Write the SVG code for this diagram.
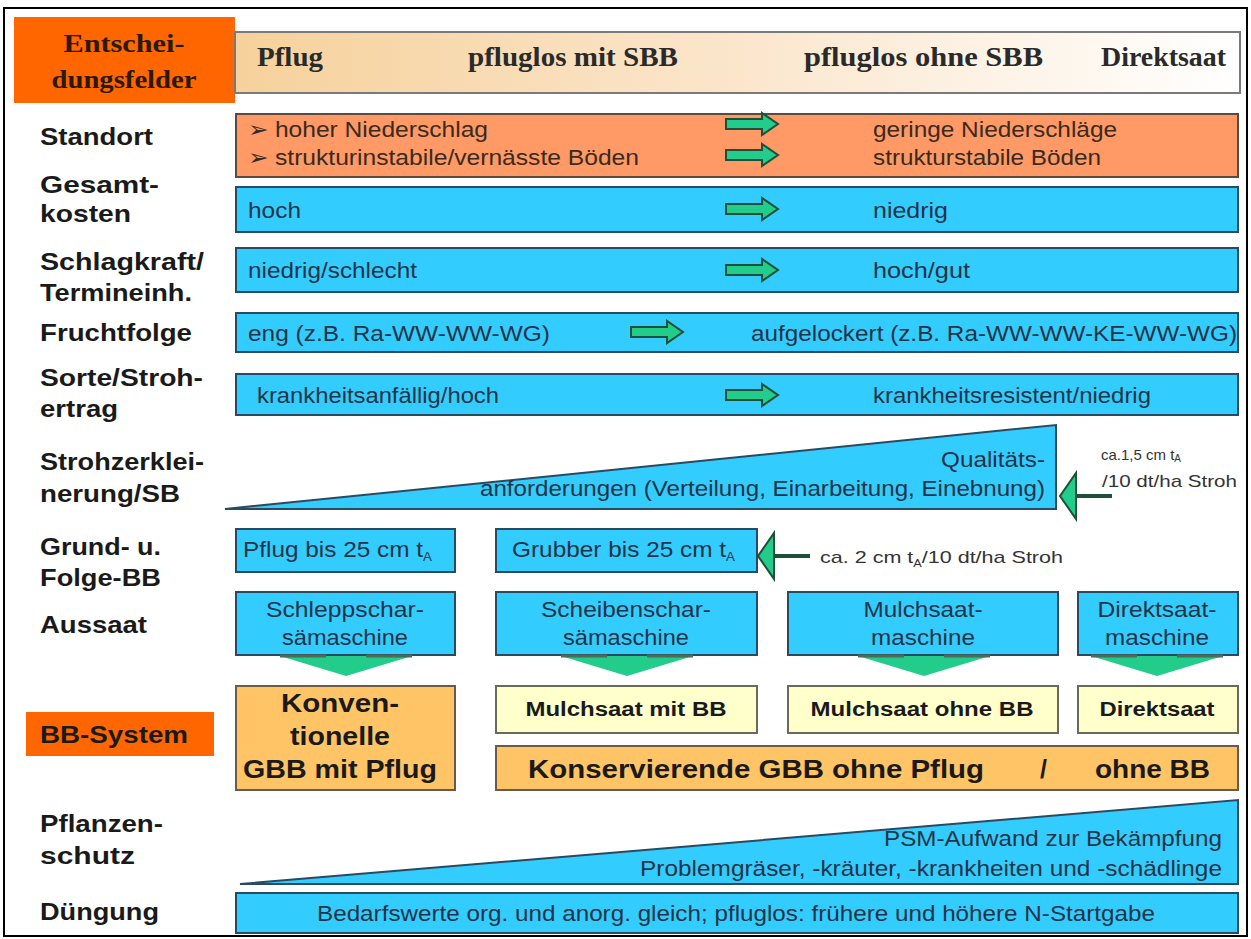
<svg xmlns="http://www.w3.org/2000/svg" width="1251" height="939" viewBox="0 0 1251 939">
<defs>
<linearGradient id="hdr" x1="0" y1="0" x2="1" y2="0">
<stop offset="0" stop-color="#f6d19b"/>
<stop offset="0.5" stop-color="#fbe6cc"/>
<stop offset="1" stop-color="#ffffff"/>
</linearGradient>
<g id="rarrow"><polygon points="0,-5 36,-5 36,-11 52,0 36,11 36,5 0,5" fill="#22cc8a" stroke="#1f4f38" stroke-width="2"/></g>
<g id="chev"><polygon points="-66,1 66,1 0,21" fill="#22cc8a"/><line x1="-66" y1="1" x2="-20" y2="1" stroke="#4a6a5a" stroke-width="3"/><line x1="20" y1="1" x2="66" y2="1" stroke="#4a6a5a" stroke-width="3"/></g>
</defs>
<style>
.lbl{font-family:"Liberation Sans",Arial,sans-serif;font-weight:bold;font-size:24px;fill:#1a1a1a}
.hd{font-family:"Liberation Serif","Times New Roman",serif;font-weight:bold;font-size:27px;fill:#2a2a2a}
.t{font-family:"Liberation Sans",Arial,sans-serif;font-size:22px;fill:#223447}
.tc{font-family:"Liberation Sans",Arial,sans-serif;font-size:22px;fill:#223447;text-anchor:middle}
.te{font-family:"Liberation Sans",Arial,sans-serif;font-size:22px;fill:#223447;text-anchor:end}
.sm{font-family:"Liberation Sans",Arial,sans-serif;font-size:17px;fill:#333}
.sub{font-size:12px}
.subs{font-size:10px}
.bb{font-family:"Liberation Sans",Arial,sans-serif;font-weight:bold;fill:#1a1a1a}
.blue{fill:#33ccff;stroke:#2a4a60;stroke-width:2}
.org{fill:#ff9966;stroke:#5a4a40;stroke-width:2}
.gold{fill:#ffc466;stroke:#6a5a4a;stroke-width:2}
.pale{fill:#ffffcc;stroke:#6a6a5a;stroke-width:2}
.garr{fill:#22cc8a;stroke:#1f4f38;stroke-width:2}
.shaft{stroke:#1f4f38;stroke-width:4}
</style>
<rect x="4" y="8" width="1243" height="928" fill="#ffffff" stroke="#000" stroke-width="2"/>

<g id="header">
<rect x="14" y="17" width="221" height="86" fill="#ff6600"/>
<text class="hd" x="124" y="52" text-anchor="middle" style="font-size:26px;fill:#2b1a0a" textLength="121" lengthAdjust="spacingAndGlyphs">Entschei-</text>
<text class="hd" x="124" y="88" text-anchor="middle" style="font-size:26px;fill:#2b1a0a" textLength="145" lengthAdjust="spacingAndGlyphs">dungsfelder</text>
<rect x="235" y="32" width="1005" height="61" fill="url(#hdr)" stroke="#7a7a7a" stroke-width="2"/>
<text class="hd" x="257" y="66" textLength="66" lengthAdjust="spacingAndGlyphs">Pflug</text>
<text class="hd" x="468" y="66" textLength="210" lengthAdjust="spacingAndGlyphs">pfluglos mit SBB</text>
<text class="hd" x="804" y="66" textLength="239" lengthAdjust="spacingAndGlyphs">pfluglos ohne SBB</text>
<text class="hd" x="1101" y="66" textLength="125" lengthAdjust="spacingAndGlyphs">Direktsaat</text>
</g>

<g id="labels">
<text class="lbl" x="40" y="145" textLength="113" lengthAdjust="spacingAndGlyphs">Standort</text>
<text class="lbl" x="40" y="193" textLength="119" lengthAdjust="spacingAndGlyphs">Gesamt-</text>
<text class="lbl" x="40" y="222" textLength="91" lengthAdjust="spacingAndGlyphs">kosten</text>
<text class="lbl" x="40" y="270" textLength="164" lengthAdjust="spacingAndGlyphs">Schlagkraft/</text>
<text class="lbl" x="40" y="301" textLength="152" lengthAdjust="spacingAndGlyphs">Termineinh.</text>
<text class="lbl" x="40" y="341" textLength="152" lengthAdjust="spacingAndGlyphs">Fruchtfolge</text>
<text class="lbl" x="40" y="386" textLength="163" lengthAdjust="spacingAndGlyphs">Sorte/Stroh-</text>
<text class="lbl" x="40" y="417" textLength="78" lengthAdjust="spacingAndGlyphs">ertrag</text>
<text class="lbl" x="40" y="470" textLength="164" lengthAdjust="spacingAndGlyphs">Strohzerklei-</text>
<text class="lbl" x="40" y="502" textLength="140" lengthAdjust="spacingAndGlyphs">nerung/SB</text>
<text class="lbl" x="40" y="555" textLength="121" lengthAdjust="spacingAndGlyphs">Grund- u.</text>
<text class="lbl" x="40" y="586" textLength="121" lengthAdjust="spacingAndGlyphs">Folge-BB</text>
<text class="lbl" x="40" y="633" textLength="107" lengthAdjust="spacingAndGlyphs">Aussaat</text>
<text class="lbl" x="40" y="832" textLength="123" lengthAdjust="spacingAndGlyphs">Pflanzen-</text>
<text class="lbl" x="40" y="864" textLength="95" lengthAdjust="spacingAndGlyphs">schutz</text>
<text class="lbl" x="40" y="920" textLength="119" lengthAdjust="spacingAndGlyphs">Düngung</text>
</g>

<g id="standort">
<rect class="org" x="236" y="114" width="1002" height="63"/>
<text class="t" x="248" y="137" style="fill:#3a2a20" textLength="240" lengthAdjust="spacingAndGlyphs">➢ hoher Niederschlag</text>
<text class="t" x="248" y="165" style="fill:#3a2a20" textLength="391" lengthAdjust="spacingAndGlyphs">➢ strukturinstabile/vernässte Böden</text>
<text class="t" x="873" y="137" style="fill:#3a2a20" textLength="244" lengthAdjust="spacingAndGlyphs">geringe Niederschläge</text>
<text class="t" x="873" y="165" style="fill:#3a2a20" textLength="228" lengthAdjust="spacingAndGlyphs">strukturstabile Böden</text>
</g>

<g id="gesamtkosten">
<rect class="blue" x="236" y="187" width="1002" height="45"/>
<text class="t" x="248" y="218" textLength="53" lengthAdjust="spacingAndGlyphs">hoch</text>
<text class="t" x="873" y="218" textLength="75" lengthAdjust="spacingAndGlyphs">niedrig</text>
</g>

<g id="schlagkraft">
<rect class="blue" x="236" y="248" width="1002" height="44"/>
<text class="t" x="248" y="278" textLength="169" lengthAdjust="spacingAndGlyphs">niedrig/schlecht</text>
<text class="t" x="873" y="278" textLength="97" lengthAdjust="spacingAndGlyphs">hoch/gut</text>
</g>

<g id="fruchtfolge">
<rect class="blue" x="236" y="313" width="1002" height="39"/>
<text class="t" x="248" y="341" textLength="302" lengthAdjust="spacingAndGlyphs">eng (z.B. Ra-WW-WW-WG)</text>
<text class="t" x="751" y="341" textLength="486" lengthAdjust="spacingAndGlyphs">aufgelockert (z.B. Ra-WW-WW-KE-WW-WG)</text>
</g>

<g id="sorte">
<rect class="blue" x="236" y="374" width="1002" height="41"/>
<text class="t" x="257" y="403" textLength="242" lengthAdjust="spacingAndGlyphs">krankheitsanfällig/hoch</text>
<text class="t" x="873" y="403" textLength="278" lengthAdjust="spacingAndGlyphs">krankheitsresistent/niedrig</text>
</g>

<g id="strohzerkleinerung">
<polygon class="blue" points="225,509 1056,425 1056,509"/>
<text class="te" x="1045" y="467" textLength="104" lengthAdjust="spacingAndGlyphs">Qualitäts-</text>
<text class="te" x="1045" y="496" textLength="565" lengthAdjust="spacingAndGlyphs">anforderungen (Verteilung, Einarbeitung, Einebnung)</text>
<text class="sm" x="1101" y="460" style="font-size:15px">ca.1,5 cm t<tspan class="subs" dy="2">A</tspan></text>
<text class="sm" x="1102" y="487" textLength="135" lengthAdjust="spacingAndGlyphs">/10 dt/ha Stroh</text>
</g>

<g id="grund-pflug">
<rect class="blue" x="236" y="529" width="219" height="43"/>
<text class="t" x="243" y="557" textLength="189" lengthAdjust="spacingAndGlyphs">Pflug bis 25 cm t<tspan class="sub" dy="4">A</tspan></text>
</g>
<g id="grund-grubber">
<rect class="blue" x="496" y="529" width="261" height="43"/>
<text class="t" x="512" y="557" textLength="223" lengthAdjust="spacingAndGlyphs">Grubber bis 25 cm t<tspan class="sub" dy="4">A</tspan></text>
<text class="sm" x="820" y="563" textLength="243" lengthAdjust="spacingAndGlyphs">ca. 2 cm t<tspan class="subs" dy="4">A</tspan><tspan dy="-4">/10 dt/ha Stroh</tspan></text>
</g>

<g id="aussaat-schleppschar">
<rect class="blue" x="236" y="592" width="219" height="63"/>
<text class="tc" x="345" y="617" textLength="158" lengthAdjust="spacingAndGlyphs">Schleppschar-</text>
<text class="tc" x="345" y="645" textLength="126" lengthAdjust="spacingAndGlyphs">sämaschine</text>
</g>
<g id="aussaat-scheibenschar">
<rect class="blue" x="496" y="592" width="261" height="63"/>
<text class="tc" x="626" y="617" textLength="170" lengthAdjust="spacingAndGlyphs">Scheibenschar-</text>
<text class="tc" x="626" y="645" textLength="126" lengthAdjust="spacingAndGlyphs">sämaschine</text>
</g>
<g id="aussaat-mulchsaat">
<rect class="blue" x="788" y="592" width="270" height="63"/>
<text class="tc" x="923" y="617" textLength="119" lengthAdjust="spacingAndGlyphs">Mulchsaat-</text>
<text class="tc" x="923" y="645" textLength="104" lengthAdjust="spacingAndGlyphs">maschine</text>
</g>
<g id="aussaat-direktsaat">
<rect class="blue" x="1078" y="592" width="160" height="63"/>
<text class="tc" x="1157" y="617" textLength="119" lengthAdjust="spacingAndGlyphs">Direktsaat-</text>
<text class="tc" x="1157" y="645" textLength="104" lengthAdjust="spacingAndGlyphs">maschine</text>
</g>

<g id="bb-system-label">
<rect x="26" y="712" width="188" height="44" fill="#ff6600"/>
<text class="lbl" x="40" y="743" textLength="148" lengthAdjust="spacingAndGlyphs">BB-System</text>
</g>

<g id="konventionelle">
<rect class="gold" x="236" y="686" width="219" height="104"/>
<text class="bb" x="340" y="712" text-anchor="middle" font-size="25" textLength="118" lengthAdjust="spacingAndGlyphs">Konven-</text>
<text class="bb" x="340" y="745" text-anchor="middle" font-size="25" textLength="100" lengthAdjust="spacingAndGlyphs">tionelle</text>
<text class="bb" x="340" y="778" text-anchor="middle" font-size="25" textLength="194" lengthAdjust="spacingAndGlyphs">GBB mit Pflug</text>
</g>
<g id="mulchsaat-mit-bb">
<rect class="pale" x="496" y="686" width="261" height="47"/>
<text class="bb" x="626" y="716" text-anchor="middle" font-size="20" textLength="201" lengthAdjust="spacingAndGlyphs">Mulchsaat mit BB</text>
</g>
<g id="mulchsaat-ohne-bb">
<rect class="pale" x="788" y="686" width="270" height="47"/>
<text class="bb" x="922" y="716" text-anchor="middle" font-size="20" textLength="223" lengthAdjust="spacingAndGlyphs">Mulchsaat ohne BB</text>
</g>
<g id="direktsaat">
<rect class="pale" x="1078" y="686" width="160" height="47"/>
<text class="bb" x="1157" y="716" text-anchor="middle" font-size="20" textLength="115" lengthAdjust="spacingAndGlyphs">Direktsaat</text>
</g>
<g id="konservierende">
<rect class="gold" x="496" y="746" width="742" height="44"/>
<text class="bb" x="528" y="778" font-size="25" textLength="456" lengthAdjust="spacingAndGlyphs">Konservierende GBB ohne Pflug</text>
<text class="bb" x="1040" y="778" font-size="25">/</text>
<text class="bb" x="1095" y="778" font-size="25" textLength="115" lengthAdjust="spacingAndGlyphs">ohne BB</text>
</g>

<g id="pflanzenschutz">
<polygon class="blue" points="240,884 1238,800 1238,884"/>
<text class="te" x="1222" y="846" textLength="338" lengthAdjust="spacingAndGlyphs">PSM-Aufwand zur Bekämpfung</text>
<text class="te" x="1222" y="876" textLength="582" lengthAdjust="spacingAndGlyphs">Problemgräser, -kräuter, -krankheiten und -schädlinge</text>
</g>

<g id="duengung">
<rect class="blue" x="236" y="893" width="1002" height="40"/>
<text class="tc" x="736" y="921" textLength="838" lengthAdjust="spacingAndGlyphs">Bedarfswerte org. und anorg. gleich; pfluglos: frühere und höhere N-Startgabe</text>
</g>

<g id="connectors">
<use href="#rarrow" x="726" y="124"/>
<use href="#rarrow" x="726" y="155"/>
<use href="#rarrow" x="726" y="209"/>
<use href="#rarrow" x="726" y="270"/>
<use href="#rarrow" x="631" y="332"/>
<use href="#rarrow" x="726" y="395"/>
<line class="shaft" x1="1074" y1="496" x2="1112" y2="496"/>
<polygon class="garr" points="1060,496 1076,473 1076,519"/>
<line class="shaft" x1="772" y1="556" x2="810" y2="556"/>
<polygon class="garr" points="758,556 774,533 774,579"/>
<use href="#chev" x="346" y="655"/>
<use href="#chev" x="627" y="655"/>
<use href="#chev" x="924" y="655"/>
<use href="#chev" x="1157" y="655"/>
</g>
</svg>
